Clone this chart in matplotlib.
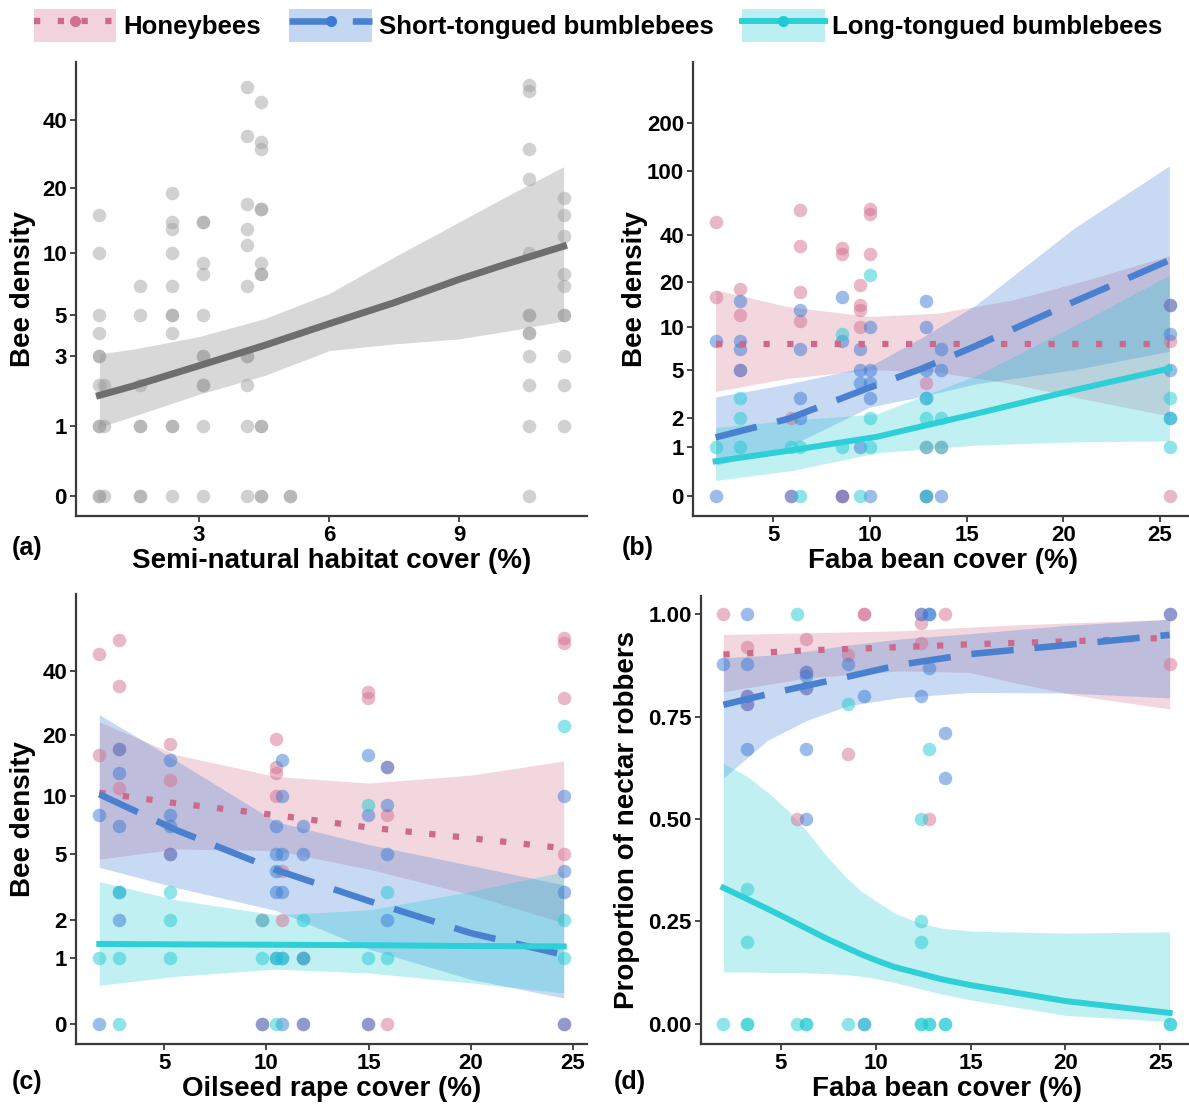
import numpy as np
import matplotlib
matplotlib.use('Agg')
import matplotlib.pyplot as plt
from matplotlib.patches import Patch
from matplotlib.lines import Line2D
from matplotlib.legend_handler import HandlerTuple

plt.rcParams['font.family'] = ['Liberation Sans', 'DejaVu Sans']
plt.rcParams['font.weight'] = 'bold'
plt.rcParams['axes.labelweight'] = 'bold'

# colori
pink = '#D4708F'
blue = '#3A7BD5'
cyan = '#1FCBD3'
grey = '#8C8C8C'

# ---------------- (a) semi-natural habitat, all bees ----------------
a_cols = [0.70, 0.81, 1.63, 2.38, 3.10, 4.10, 4.43, 5.09, 10.62, 11.41]
a_vals = [[15, 10, 5, 4, 3, 3, 2, 1, 1, 0, 0], [2, 1, 0], [7, 5, 2, 1, 1, 0, 0],
          [19, 14, 13, 10, 7, 5, 5, 4, 1, 1, 0], [14, 14, 9, 8, 5, 3, 3, 2, 2, 1, 0],
          [56, 34, 17, 13, 11, 7, 3, 3, 2, 1, 0], [48, 32, 30, 16, 16, 9, 8, 8, 1, 1, 0, 0],
          [0, 0], [57, 54, 30, 22, 10, 5, 5, 4, 4, 3, 2, 1, 0], [18, 15, 12, 8, 7, 5, 5, 3, 2, 1]]
a_cx = [0.70, 1.5, 3.0, 4.5, 6.0, 7.5, 9.0, 10.2, 11.41]
a_fit = [1.70, 1.97, 2.62, 3.42, 4.48, 5.75, 7.5, 9.05, 10.8]
a_up = [3.07, 3.27, 3.83, 4.76, 6.39, 9.6, 14.0, 18.8, 24.9]
a_lo = [0.97, 1.20, 1.73, 2.28, 3.20, 3.49, 3.72, 4.13, 4.63]

# ---------------- (b) faba bean cover, density ----------------
b_cols = [2.03, 3.27, 5.94, 6.41, 8.58, 9.48, 10.01, 12.89, 13.70, 25.5]
b_hb = [[48, 16], [18, 12, 5], [2, 0], [57, 34, 17, 11], [33, 30, 0, 0], [19, 14, 13, 10],
        [58, 54, 30], [4, 1, 0], [1], [14, 8, 0]]
b_st = [[8, 0], [15, 8, 7, 5], [0], [13, 7, 3, 2], [16, 8, 0], [7, 5, 4, 1], [10, 5, 4, 3, 0],
        [15, 10, 5, 3, 0], [7, 5, 0], [14, 9, 5, 2]]
b_lt = [[1], [3, 2, 1], [1], [1, 0], [9, 1], [0], [22, 2, 1], [3, 2, 1, 0], [2, 1], [3, 2, 1]]
b_hb_cx = [2.03, 5.72, 10.0, 13.5, 17.4, 21.3, 25.48]
b_hb_fit = [7.65, 7.65, 7.65, 7.65, 7.65, 7.65, 7.65]
b_hb_up = [17.7, 13.75, 11.8, 12.4, 15.2, 20.6, 29.4]
b_hb_lo = [3.4, 4.3, 5.0, 4.8, 3.9, 2.9, 2.1]
b_st_cx = [2.03, 5.77, 10.0, 12.7, 15.46, 20.56, 25.48]
b_st_fit = [1.29, 1.98, 3.66, 5.1, 7.4, 14.8, 27.5]
b_st_up = [3.07, 3.9, 5.3, 8.5, 14.0, 44.0, 108.0]
b_st_lo = [0.54, 1.0, 2.53, 3.1, 3.9, 5.0, 6.8]
b_lt_cx = [2.03, 6.0, 10.36, 15.46, 20.56, 25.48]
b_lt_fit = [0.63, 0.91, 1.31, 2.2, 3.49, 5.1]
b_lt_up = [1.64, 1.93, 2.2, 4.5, 10.2, 22.0]
b_lt_lo = [0.24, 0.43, 0.84, 1.05, 1.15, 1.18]

# ---------------- (c) oilseed rape cover, density ----------------
c_cols = [1.83, 2.80, 5.29, 9.80, 10.48, 10.74, 11.81, 14.97, 15.90, 24.55]
c_hb = [[48, 16], [56, 34, 17, 11], [18, 12, 5], [2, 0], [19, 14, 13, 10], [4, 2], [1, 0],
        [32, 30, 0], [14, 8, 0], [57, 54, 30, 5, 0]]
c_st = [[8, 0], [17, 13, 7, 3, 2], [15, 8, 7, 5], [0], [7, 5, 4, 3, 1], [15, 10, 5, 3, 1, 0],
        [7, 5, 1, 0], [16, 8, 0], [14, 9, 5, 2], [10, 4, 3, 0]]
c_lt = [[1], [3, 1, 0], [3, 2, 1], [2, 1], [1, 0], [1], [2, 1], [9, 1], [3, 1], [22, 2, 1]]
c_cx = [1.82, 5.57, 10.46, 15.0, 20.0, 24.55]
c_hb_fit = [10.4, 9.2, 8.0, 6.9, 6.06, 5.35]
c_hb_up = [23.0, 16.0, 12.5, 11.6, 12.7, 14.9]
c_hb_lo = [4.66, 5.3, 5.2, 4.1, 2.9, 1.89]
c_st_fit = [10.2, 6.7, 4.06, 2.65, 1.6, 1.07]
c_st_up = [24.9, 15.0, 7.4, 5.6, 4.3, 3.32]
c_st_lo = [4.2, 3.2, 2.3, 1.2, 0.6, 0.314]
c_lt_fit = [1.32, 1.31, 1.30, 1.29, 1.27, 1.26]
c_lt_up = [3.47, 2.69, 2.15, 2.32, 3.03, 3.97]
c_lt_lo = [0.5, 0.65, 0.78, 0.71, 0.54, 0.385]

# ---------------- (d) faba bean cover, proportion of robbers ----------------
d_cols = [1.95, 3.2, 5.87, 6.34, 8.52, 9.4, 12.37, 12.82, 13.65, 25.49]
d_hb = [[1.0], [0.92, 0.80, 0.78], [0.50], [0.94, 0.86, 0.82], [0.90, 0.66], [1.0, 1.0],
        [1.0, 0.98, 0.93], [0.50], [1.0], [0.88, 1.0]]
d_st = [[0.88], [1.0, 0.88, 0.80, 0.78, 0.67], [], [0.86, 0.85, 0.82, 0.67, 0.50], [0.88],
        [0.80, 0.0], [1.0, 0.80], [1.0, 1.0, 0.87], [0.71, 0.60], [1.0]]
d_lt = [[0.0], [0.33, 0.20, 0.0, 0.0], [1.0, 0.0], [0.0, 0.0], [0.78, 0.0], [0.0],
        [0.50, 0.25, 0.20, 0.0, 0.0], [0.67, 0.0, 0.0], [0.0, 0.0], [0.0, 0.0]]
d_hb_cx = [1.98, 6.38, 11.3, 15.0, 17.2, 20.7, 25.49]
d_hb_fit = [0.902, 0.912, 0.92, 0.927, 0.93, 0.935, 0.943]
d_hb_up = [0.951, 0.955, 0.96, 0.969, 0.974, 0.98, 0.988]
d_hb_lo = [0.811, 0.845, 0.862, 0.858, 0.834, 0.801, 0.769]
d_st_cx = [1.98, 4.3, 6.38, 8.55, 11.3, 15.0, 20.0, 25.49]
d_st_fit = [0.779, 0.805, 0.826, 0.848, 0.877, 0.903, 0.925, 0.950]
d_st_up = [0.894, 0.90, 0.91, 0.925, 0.94, 0.953, 0.973, 0.988]
d_st_lo = [0.60, 0.692, 0.741, 0.777, 0.797, 0.809, 0.808, 0.796]
d_lt_cx = [1.98, 3.2, 4.45, 5.4, 6.38, 7.4, 8.39, 9.2, 10.0, 11.0, 12.34, 13.5, 15.0, 20.0, 25.49]
d_lt_fit = [0.332, 0.305, 0.277, 0.255, 0.232, 0.208, 0.187, 0.17, 0.155, 0.138, 0.122, 0.108,
            0.094, 0.055, 0.026]
d_lt_up = [0.636, 0.605, 0.56, 0.52, 0.47, 0.41, 0.36, 0.325, 0.30, 0.27, 0.245, 0.233,
           0.226, 0.221, 0.224]
d_lt_lo = [0.126, 0.126, 0.125, 0.125, 0.124, 0.122, 0.12, 0.116, 0.11, 0.10, 0.085, 0.072,
           0.058, 0.02, 0.005]


def flatten(cols, vals):
    xs = [c for c, v in zip(cols, vals) for _ in v]
    ys = [y for v in vals for y in v]
    return xs, ys


# stili delle linee
hb_style = dict(color='#CC6A8C', lw=4.5, ls=(0, (1, 2.8)), dash_capstyle='butt')
st_style = dict(color='#4A80D0', lw=4.7, ls=(0, (6.5, 3.2)), dash_capstyle='butt')
lt_style = dict(color='#2ECFD6', lw=4.3, ls='-')


def style(ax, xticks, yticks, ylabels, xlab, ylab):
    for s in ['top', 'right']:
        ax.spines[s].set_visible(False)
    for s in ['left', 'bottom']:
        ax.spines[s].set_linewidth(1.6)
        ax.spines[s].set_color('#3a3a3a')
    ax.set_xticks(xticks)
    ax.set_yticks(yticks)
    ax.set_yticklabels(ylabels)
    ax.yaxis.set_minor_locator(matplotlib.ticker.NullLocator())
    ax.xaxis.set_minor_locator(matplotlib.ticker.NullLocator())
    ax.tick_params(length=4, width=1.3, color='#3a3a3a', labelsize=16, labelcolor='black', pad=2.5)
    ax.set_xlabel(xlab, fontsize=20)
    ax.set_ylabel(ylab, fontsize=20)


def draw_group(ax, cols, vals, cx, fit, up, lo, col, lstyle):
    ax.fill_between(cx, lo, up, color=col, alpha=0.28, lw=0)
    xs, ys = flatten(cols, vals)
    ax.scatter(xs, ys, s=95, color=col, alpha=0.5, lw=0, zorder=3)
    ax.plot(cx, fit, zorder=4, **lstyle)


fig = plt.figure(figsize=(11.89, 11.06), dpi=100)
W, H = 1189.0, 1106.0


def add_ax(l, r, t, b):
    return fig.add_axes([l / W, 1 - b / H, (r - l) / W, (b - t) / H])


# (a)
ax = add_ax(76, 587, 62, 516)
ax.set_yscale('function', functions=(np.log1p, np.expm1))
ax.fill_between(a_cx, a_lo, a_up, color='#808080', alpha=0.3, lw=0)
xs, ys = flatten(a_cols, a_vals)
ax.scatter(xs, ys, s=95, color='#9A9A9A', alpha=0.45, lw=0, zorder=3)
ax.plot(a_cx, a_fit, color='#6E6E6E', lw=5, zorder=4)
ax.set_xlim(0.16, 11.95)
ax.set_ylim(np.expm1(-0.2), np.expm1(4.29))
style(ax, [3, 6, 9], [0, 1, 3, 5, 10, 20, 40], ['0', '1', '3', '5', '10', '20', '40'],
      'Semi-natural habitat cover (%)', 'Bee density')
ax.yaxis.set_label_coords(-0.078, 0.5)
ax.xaxis.set_label_coords(0.5, -0.071)

# (b)
ax = add_ax(693, 1192, 62, 516)
ax.set_yscale('function', functions=(np.log1p, np.expm1))
draw_group(ax, b_cols, b_hb, b_hb_cx, b_hb_fit, b_hb_up, b_hb_lo, pink, hb_style)
draw_group(ax, b_cols, b_st, b_st_cx, b_st_fit, b_st_up, b_st_lo, blue, st_style)
draw_group(ax, b_cols, b_lt, b_lt_cx, b_lt_fit, b_lt_up, b_lt_lo, cyan, lt_style)
ax.set_xlim(0.86, 26.65)
ax.set_ylim(np.expm1(-0.29), np.expm1(6.17))
style(ax, [5, 10, 15, 20, 25], [0, 1, 2, 5, 10, 20, 40, 100, 200],
      ['0', '1', '2', '5', '10', '20', '40', '100', '200'], 'Faba bean cover (%)', 'Bee density')
ax.yaxis.set_label_coords(-0.09, 0.5)
ax.xaxis.set_label_coords(0.5, -0.071)

# (c)
ax = add_ax(76, 587, 594, 1044)
ax.set_yscale('function', functions=(np.log1p, np.expm1))
draw_group(ax, c_cols, c_hb, c_cx, c_hb_fit, c_hb_up, c_hb_lo, pink, hb_style)
draw_group(ax, c_cols, c_st, c_cx, c_st_fit, c_st_up, c_st_lo, blue, st_style)
draw_group(ax, c_cols, c_lt, c_cx, c_lt_fit, c_lt_up, c_lt_lo, cyan, lt_style)
ax.set_xlim(0.68, 25.69)
ax.set_ylim(np.expm1(-0.211), np.expm1(4.523))
style(ax, [5, 10, 15, 20, 25], [0, 1, 2, 5, 10, 20, 40], ['0', '1', '2', '5', '10', '20', '40'],
      'Oilseed rape cover (%)', 'Bee density')
ax.yaxis.set_label_coords(-0.078, 0.5)
ax.xaxis.set_label_coords(0.5, -0.072)

# (d)
ax = add_ax(701, 1192, 596, 1044)
draw_group(ax, d_cols, d_hb, d_hb_cx, d_hb_fit, d_hb_up, d_hb_lo, pink, hb_style)
draw_group(ax, d_cols, d_st, d_st_cx, d_st_fit, d_st_up, d_st_lo, blue, st_style)
draw_group(ax, d_cols, d_lt, d_lt_cx, d_lt_fit, d_lt_up, d_lt_lo, cyan, lt_style)
ax.set_xlim(0.80, 26.67)
ax.set_ylim(-0.05, 1.045)
style(ax, [5, 10, 15, 20, 25], [0, 0.25, 0.5, 0.75, 1.0], ['0.00', '0.25', '0.50', '0.75', '1.00'],
      'Faba bean cover (%)', 'Proportion of nectar robbers')
ax.yaxis.set_label_coords(-0.125, 0.5)
ax.xaxis.set_label_coords(0.5, -0.072)

# etichette dei pannelli
for lab, px, py in [('(a)', 12, 548), ('(b)', 622, 548), ('(c)', 12, 1082), ('(d)', 614, 1082)]:
    fig.text(px / W, 1 - py / H, lab, fontsize=18, va='center', ha='left')

# legenda
handles = [
    (Patch(facecolor=pink, alpha=0.3, edgecolor='none'),
     Line2D([], [], marker='o', markersize=8, markerfacecolor=pink, markeredgewidth=0, **hb_style)),
    (Patch(facecolor=blue, alpha=0.3, edgecolor='none'),
     Line2D([], [], marker='o', markersize=8, markerfacecolor=blue, markeredgewidth=0, **st_style)),
    (Patch(facecolor=cyan, alpha=0.3, edgecolor='none'),
     Line2D([], [], marker='o', markersize=8, markerfacecolor=cyan, markeredgewidth=0, **lt_style)),
]
labels = ['Honeybees', 'Short-tongued bumblebees', 'Long-tongued bumblebees']
fig.legend(handles, labels, loc='center', bbox_to_anchor=(0.503, 0.977), ncol=3, frameon=False,
           fontsize=18.5, handlelength=3.2, handleheight=1.6, handletextpad=0.3, columnspacing=1.1,
           numpoints=1, handler_map={tuple: HandlerTuple(ndivide=1, pad=0)})

fig.savefig('out.png', dpi=100)
